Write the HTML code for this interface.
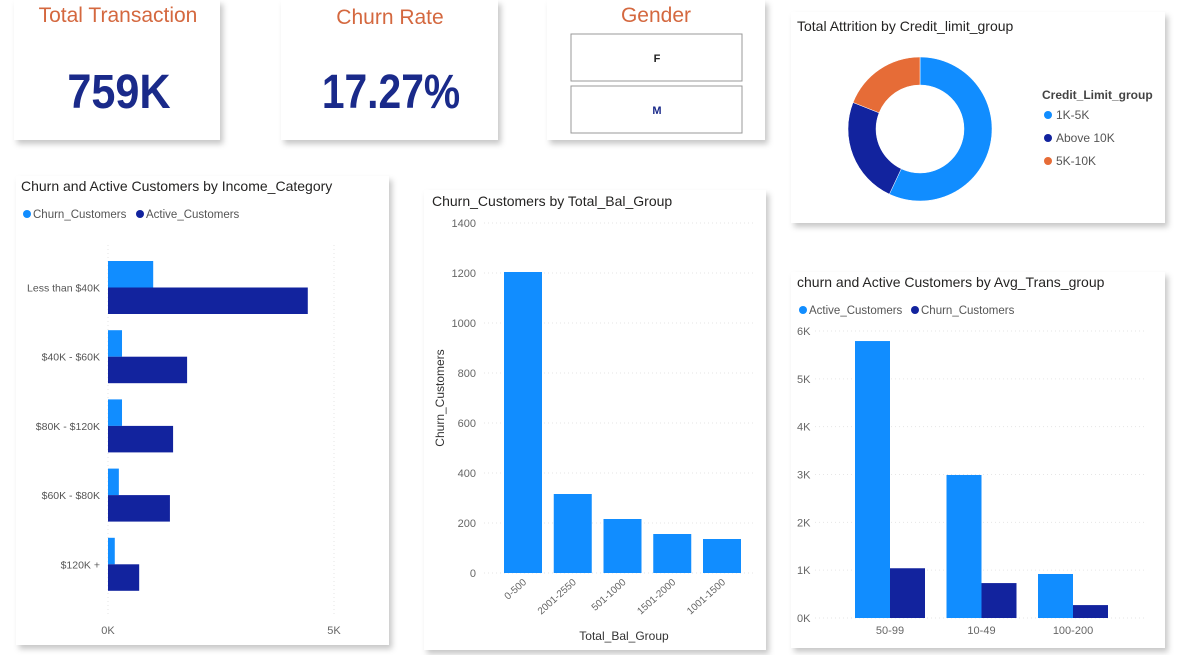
<!DOCTYPE html>
<html><head><meta charset="utf-8">
<style>
html,body{margin:0;padding:0;background:#fff;width:1178px;height:655px;overflow:hidden;font-family:"Liberation Sans",sans-serif;}
svg text{font-family:"Liberation Sans",sans-serif;}
</style></head>
<body>
<svg id="root" width="1178" height="655" viewBox="0 0 1178 655" xmlns="http://www.w3.org/2000/svg">
<defs>
<filter id="sh" x="-10%" y="-10%" width="125%" height="125%"><feDropShadow dx="3" dy="4" stdDeviation="3" flood-color="#000" flood-opacity="0.22"/></filter>
</defs>
<rect x="14" y="0" width="206" height="140" fill="#fff" filter="url(#sh)"/>
<rect x="281" y="0" width="217" height="140" fill="#fff" filter="url(#sh)"/>
<rect x="547" y="0" width="218" height="140" fill="#fff" filter="url(#sh)"/>
<rect x="791" y="12" width="374" height="211" fill="#fff" filter="url(#sh)"/>
<rect x="16" y="176" width="373" height="469" fill="#fff" filter="url(#sh)"/>
<rect x="424" y="190" width="342" height="460" fill="#fff" filter="url(#sh)"/>
<rect x="791" y="272" width="374" height="376" fill="#fff" filter="url(#sh)"/>

<text x="118" y="22" text-anchor="middle" font-size="21" fill="#d4683f">Total Transaction</text>
<text x="119" y="108" text-anchor="middle" font-size="48" font-weight="bold" fill="#1a2a8a" transform="translate(119 0) scale(0.9 1) translate(-119 0)">759K</text>
<text x="390" y="24" text-anchor="middle" font-size="21" fill="#d4683f">Churn Rate</text>
<text x="391" y="108" text-anchor="middle" font-size="48" font-weight="bold" fill="#1a2a8a" transform="translate(391 0) scale(0.85 1) translate(-391 0)">17.27%</text>
<text x="656" y="22" text-anchor="middle" font-size="21" fill="#d4683f">Gender</text>
<rect x="571" y="34" width="171" height="47" fill="#fff" stroke="#999"/>
<text x="657" y="62" text-anchor="middle" font-size="11" font-weight="bold" fill="#222">F</text>
<rect x="571" y="86" width="171" height="47" fill="#fff" stroke="#999"/>
<text x="657" y="114" text-anchor="middle" font-size="11" font-weight="bold" fill="#1a2a8a">M</text>

<text x="797" y="31" font-size="14" fill="#252423">Total Attrition by Credit_limit_group</text>
<g id="donut"></g>
<text x="1042" y="99" font-size="12" font-weight="bold" fill="#444">Credit_Limit_group</text>
<g id="donutLegend"></g>

<text x="21" y="191" font-size="14" fill="#252423">Churn and Active Customers by Income_Category</text>
<circle cx="27" cy="214" r="4" fill="#118dff"/><text x="33" y="218" font-size="11.5" fill="#555">Churn_Customers</text>
<circle cx="140" cy="214" r="4" fill="#12239e"/><text x="146" y="218" font-size="11.5" fill="#555">Active_Customers</text>
<g id="income"></g>

<text x="432" y="206" font-size="14" fill="#252423">Churn_Customers by Total_Bal_Group</text>
<text transform="translate(444,398) rotate(-90)" text-anchor="middle" font-size="12" fill="#333">Churn_Customers</text>
<text x="624" y="640" text-anchor="middle" font-size="12" fill="#333">Total_Bal_Group</text>
<g id="bal"></g>

<text x="797" y="287" font-size="14" fill="#252423">churn and Active Customers by Avg_Trans_group</text>
<circle cx="803" cy="310" r="4" fill="#118dff"/><text x="809" y="314" font-size="11.5" fill="#555">Active_Customers</text>
<circle cx="915" cy="310" r="4" fill="#12239e"/><text x="921" y="314" font-size="11.5" fill="#555">Churn_Customers</text>
<g id="avg"></g>
</svg>
<script>
const NS="http://www.w3.org/2000/svg";
const creditGroups=["1K-5K","Above 10K","5K-10K"];
const creditValues=[57,24,19];
const incomeCats=["Less than $40K","$40K - $60K","$80K - $120K","$60K - $80K","$120K +"];
const incomeChurn=[1000,310,310,240,150];
const incomeActive=[4420,1750,1440,1370,690];
const incomeTicks=["0K","5K"];
const balCats=["0-500","2001-2550","501-1000","1501-2000","1001-1500"];
const balValues=[1204,316,216,156,136];
const balTicks=[0,200,400,600,800,1000,1200,1400];
const avgCats=["50-99","10-49","100-200"];
const avgActive=[5790,2990,920];
const avgChurn=[1040,730,270];
const avgTicks=[0,1000,2000,3000,4000,5000,6000];

function mk(tag,attrs,parent,txt){const e=document.createElementNS(NS,tag);for(const k in attrs)e.setAttribute(k,attrs[k]);if(txt!==undefined)e.textContent=txt;parent.appendChild(e);return e;}

(function(){
 const g=document.getElementById('donut');const cx=920,cy=129,R=72,r=44;
 const cols=["#118dff","#12239e","#e66c37"];
 const tot=creditValues.reduce((a,b)=>a+b,0);let a0=0;
 creditValues.forEach((v,i)=>{
  const a1=a0+v/tot*2*Math.PI;
  const p=(a,rr)=>[cx+rr*Math.sin(a),cy-rr*Math.cos(a)];
  const [x0,y0]=p(a0,R),[x1,y1]=p(a1,R),[x2,y2]=p(a1,r),[x3,y3]=p(a0,r);
  const lg=(a1-a0)>Math.PI?1:0;
  const e=mk('path',{d:`M${x0},${y0}A${R},${R} 0 ${lg} 1 ${x1},${y1}L${x2},${y2}A${r},${r} 0 ${lg} 0 ${x3},${y3}Z`,fill:cols[i],stroke:'#fff','stroke-width':0.5},g);
  
  
  a0=a1;
 });
 const lg=document.getElementById('donutLegend');
 creditGroups.forEach((c,i)=>{
  mk('circle',{cx:1048,cy:115+i*23,r:4,fill:cols[i]},lg);
  const t=mk('text',{x:1056,y:119+i*23,'font-size':12,fill:'#555'},lg,c);
  
  
 });
})();

(function(){
 const g=document.getElementById('income');
 const x0=108,x5=334;const xs=v=>x0+(v/5000)*(x5-x0);
 const rowTop=258,rowH=69.2,bh=26.5;
 [0,5000].forEach((v,i)=>{
  mk('line',{x1:xs(v),x2:xs(v),y1:245,y2:615,stroke:'#e6e6e6','stroke-dasharray':'1,3'},g);
  const t=mk('text',{x:xs(v),y:634,'text-anchor':'middle','font-size':11,fill:'#666'},g,incomeTicks[i]);
  
  
 });
 incomeCats.forEach((c,i)=>{
  const y=rowTop+i*rowH+3;
  const l=mk('text',{x:100,y:y+bh+4,'text-anchor':'end','font-size':10.5,fill:'#555'},g,c);
  
  
  const b1=mk('rect',{x:x0,y:y,width:xs(incomeChurn[i])-x0,height:bh,fill:'#118dff'},g);
  
  
  const b2=mk('rect',{x:x0,y:y+bh,width:xs(incomeActive[i])-x0,height:bh,fill:'#12239e'},g);
  
  
 });
})();

(function(){
 const g=document.getElementById('bal');
 const y0=573,yTop=223;const ys=v=>y0-(v/1400)*(y0-yTop);
 balTicks.forEach(v=>{
  mk('line',{x1:484,x2:755,y1:ys(v),y2:ys(v),stroke:'#e6e6e6','stroke-dasharray':'1,3'},g);
  const t=mk('text',{x:476,y:ys(v)+4,'text-anchor':'end','font-size':11,fill:'#666'},g,String(v));
  
  
 });
 const step=49.75,bw=38,x0=504;
 balCats.forEach((c,i)=>{
  const x=x0+i*step;
  const b=mk('rect',{x:x,y:ys(balValues[i]),width:bw,height:y0-ys(balValues[i]),fill:'#118dff'},g);
  
  
  const cx=x+bw/2+4,cy=583;
  const t=mk('text',{x:cx,y:cy,'text-anchor':'end','font-size':10,fill:'#666',transform:`rotate(-42 ${cx} ${cy})`},g,c);
  
  
 });
})();

(function(){
 const g=document.getElementById('avg');
 const y0=618,yTop=331;const ys=v=>y0-(v/6000)*(y0-yTop);
 avgTicks.forEach(v=>{
  mk('line',{x1:815,x2:1145,y1:ys(v),y2:ys(v),stroke:'#e6e6e6','stroke-dasharray':'1,3'},g);
  const t=mk('text',{x:797,y:ys(v)+4,'font-size':11,fill:'#666'},g,(v/1000)+'K');
  
  
 });
 const step=91.5,bw=35,x0=855;
 avgCats.forEach((c,i)=>{
  const x=x0+i*step;
  const b1=mk('rect',{x:x,y:ys(avgActive[i]),width:bw,height:y0-ys(avgActive[i]),fill:'#118dff'},g);
  
  
  const b2=mk('rect',{x:x+bw,y:ys(avgChurn[i]),width:bw,height:y0-ys(avgChurn[i]),fill:'#12239e'},g);
  
  
  const t=mk('text',{x:x+bw,y:634,'text-anchor':'middle','font-size':11,fill:'#666'},g,c);
  
  
 });
})();
</script>
</body></html>
